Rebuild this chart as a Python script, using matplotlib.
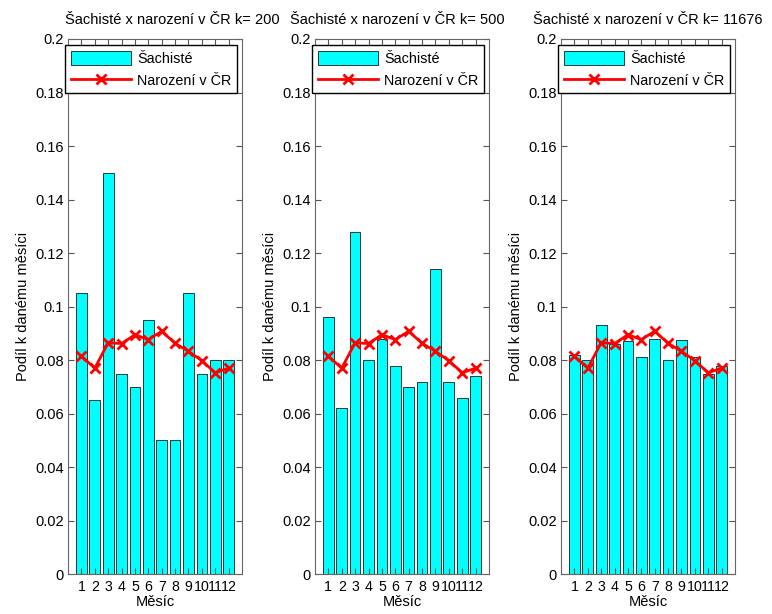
import numpy as np
import matplotlib
matplotlib.use("Agg")
import matplotlib.pyplot as plt

plt.rcParams['font.family'] = ['Liberation Sans', 'DejaVu Sans']

# data
mesice = np.arange(1, 13)
k_hodnoty = [200, 500, 11676]
sachiste_200 = [0.105, 0.065, 0.150, 0.075, 0.070, 0.095, 0.050, 0.050, 0.105, 0.075, 0.080, 0.080]
sachiste_500 = [0.096, 0.062, 0.128, 0.080, 0.088, 0.078, 0.070, 0.072, 0.114, 0.072, 0.066, 0.074]
sachiste_all = [0.082, 0.080, 0.093, 0.086, 0.087, 0.081, 0.088, 0.080, 0.0875, 0.081, 0.075, 0.078]
narozeni_cr = [0.0815, 0.0770, 0.0865, 0.0862, 0.0895, 0.0877, 0.0908, 0.0863, 0.0833, 0.0798, 0.0753, 0.0770]
ytick_labels = ['0', '0.02', '0.04', '0.06', '0.08', '0.1', '0.12', '0.14', '0.16', '0.18', '0.2']

fig = plt.figure(figsize=(7.72, 6.14), dpi=100)
lefts = [0.0881, 0.408, 0.7267]
title_x = [0.60, 0.474, 0.50]   # titulky nejsou v originale uplne na stredu
sachiste = [sachiste_200, sachiste_500, sachiste_all]

for left, tx, k, s in zip(lefts, title_x, k_hodnoty, sachiste):
    ax = fig.add_axes([left, 0.0647, 0.2254, 0.8718])
    bars = ax.bar(mesice, s, width=0.8, color='cyan', edgecolor='#1a3a3a', linewidth=0.7)
    line, = ax.plot(mesice, narozeni_cr, color='red', linewidth=2, marker='x', markersize=7,
                    markeredgewidth=2)
    ax.set_xlim(0, 13)
    ax.set_ylim(0, 0.2)
    ax.set_xticks(mesice)
    ax.set_yticks(np.linspace(0, 0.2, 11))
    ax.set_yticklabels(ytick_labels)
    ax.tick_params(direction='in', top=True, right=True, labelsize=10.5, length=4,
                   pad=3, color='#555555')
    ax.tick_params(axis='x', pad=4, labelsize=10.2)
    ax.set_title(f"Šachisté x narození v ČR k= {k}", fontsize=10.5, x=tx, pad=11)
    ax.set_xlabel('Měsíc', fontsize=10.5, labelpad=1)
    ax.set_ylabel('Podíl k danému měsíci', fontsize=10.5, labelpad=4)
    ax.legend([bars, line], ['Šachisté', 'Narození v ČR'],
              loc='upper left', bbox_to_anchor=(-0.017, 0.989), fontsize=10.4,
              fancybox=False, edgecolor='black', framealpha=1, borderaxespad=0,
              handlelength=4.2, handleheight=1.2, borderpad=0.4, numpoints=1,
              labelspacing=0.45, handletextpad=0.4)
    for sp in ax.spines.values():
        sp.set_color('#666666')

fig.savefig('out.png', dpi=100)
